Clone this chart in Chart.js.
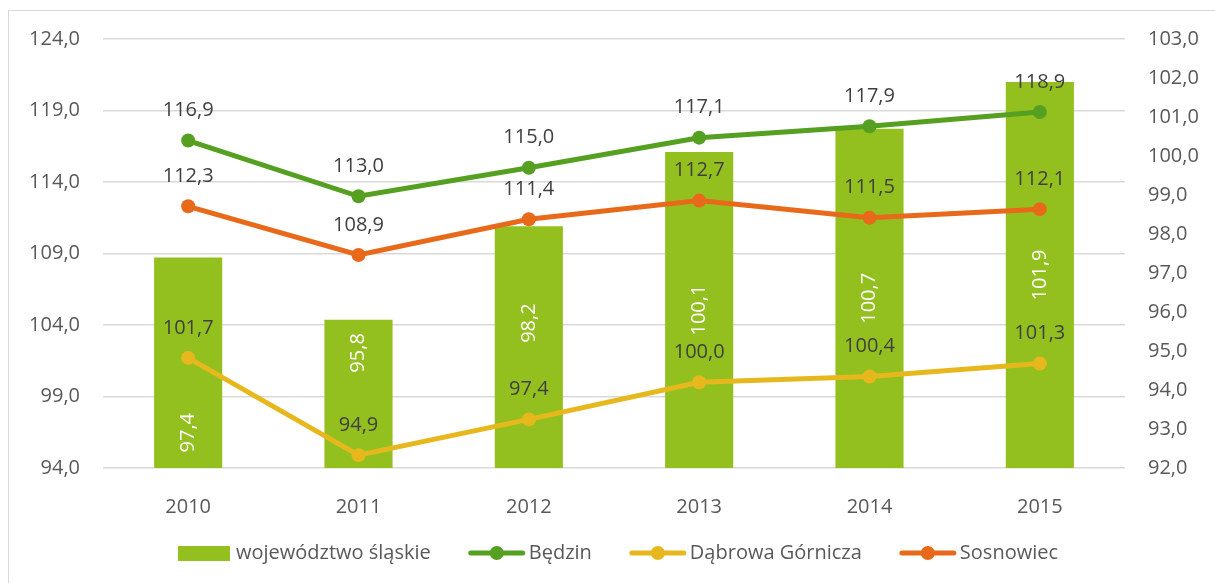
<!DOCTYPE html>
<html lang="pl">
<head>
<meta charset="utf-8">
<script src="https://cdn.jsdelivr.net/npm/chart.js@4"></script>
<style>
  body { margin: 0; background: #fff; overflow: hidden; }
  #frame { position: absolute; left: 8px; top: 10px; width: 1300px; height: 700px; border: 1px solid #d9d9d9; }
  #wrap { position: absolute; left: 0; top: 0; width: 1215px; height: 583px; }
</style>
</head>
<body>
<div id="frame"></div>
<div id="wrap"><canvas id="chart" width="1215" height="583"></canvas></div>
<script>
// dane
const years = ['2010', '2011', '2012', '2013', '2014', '2015'];
const slaskie = [97.4, 95.8, 98.2, 100.1, 100.7, 101.9];
const bedzin = [116.9, 113.0, 115.0, 117.1, 117.9, 118.9];
const dabrowa = [101.7, 94.9, 97.4, 100.0, 100.4, 101.3];
const sosnowiec = [112.3, 108.9, 111.4, 112.7, 111.5, 112.1];

// przesunięcia etykiet słupków (px od środka słupka)
const barLabelShift = [70, -41, -24, 0, 0, 0];

const FONT = '"Open Sans", "DejaVu Sans", sans-serif';
const FS = 20;
const fmt = v => v.toFixed(1).replace('.', ',');

const colors = {
    bar: '#93c01f',
    bedzin: '#55a021',
    dabrowa: '#e7b81e',
    sosnowiec: '#e8691a'
};

// etykiety danych
const labelsPlugin = {
    id: 'valueLabels',
    afterDatasetsDraw(chart) {
        const ctx = chart.ctx;
        const bottom = chart.chartArea.bottom;
        ctx.save();
        ctx.font = FS + 'px ' + FONT;
        ctx.textBaseline = 'middle';
        ctx.textAlign = 'center';
        chart.data.datasets.forEach((ds, i) => {
            const meta = chart.getDatasetMeta(i);
            meta.data.forEach((el, j) => {
                const txt = fmt(ds.data[j]);
                if (meta.type === 'bar') {
                    const cy = (el.y + bottom) / 2 + barLabelShift[j];
                    ctx.save();
                    ctx.translate(el.x, cy);
                    ctx.rotate(-Math.PI / 2);
                    ctx.fillStyle = '#ffffff';
                    ctx.fillText(txt, 0, 0);
                    ctx.restore();
                } else {
                    ctx.fillStyle = '#404040';
                    ctx.fillText(txt, el.x, el.y - 30);
                }
            });
        });
        ctx.restore();
    }
};

// legenda na dole
const legendPlugin = {
    id: 'bottomLegend',
    afterDraw(chart) {
        const ctx = chart.ctx;
        const items = [
            { label: 'województwo śląskie', color: colors.bar, bar: true },
            { label: 'Będzin', color: colors.bedzin },
            { label: 'Dąbrowa Górnicza', color: colors.dabrowa },
            { label: 'Sosnowiec', color: colors.sosnowiec }
        ];
        ctx.save();
        ctx.font = FS + 'px ' + FONT;
        ctx.textBaseline = 'middle';
        ctx.textAlign = 'left';
        let total = 0;
        items.forEach(it => {
            it.sym = it.bar ? 52 : 56;
            it.gap = it.bar ? 6 : 4;
            it.w = ctx.measureText(it.label).width;
            total += it.sym + it.gap + it.w;
        });
        const itemGap = 38;
        total += itemGap * (items.length - 1);
        let x = (chart.chartArea.left + chart.chartArea.right) / 2 - total / 2 + 4;
        const y = 553;
        items.forEach(it => {
            if (it.bar) {
                ctx.fillStyle = it.color;
                ctx.fillRect(x, y - 7, it.sym, 15);
            } else {
                ctx.strokeStyle = it.color;
                ctx.lineWidth = 5;
                ctx.lineCap = 'round';
                ctx.beginPath();
                ctx.moveTo(x + 2, y);
                ctx.lineTo(x + it.sym - 2, y);
                ctx.stroke();
                ctx.fillStyle = it.color;
                ctx.beginPath();
                ctx.arc(x + it.sym / 2, y, 7, 0, Math.PI * 2);
                ctx.fill();
            }
            x += it.sym + it.gap;
            ctx.fillStyle = '#595959';
            ctx.fillText(it.label, x, y);
            x += it.w + itemGap;
        });
        ctx.restore();
    }
};

function lineSet(label, data, color) {
    return {
        type: 'line',
        label: label,
        data: data,
        yAxisID: 'y',
        borderColor: color,
        backgroundColor: color,
        borderWidth: 5,
        pointRadius: 7,
        pointBorderWidth: 0,
        pointBackgroundColor: color,
        tension: 0,
        order: 1
    };
}

const ctx = document.getElementById('chart').getContext('2d');
new Chart(ctx, {
    data: {
        labels: years,
        datasets: [
            {
                type: 'bar',
                label: 'województwo śląskie',
                data: slaskie,
                yAxisID: 'y2',
                backgroundColor: colors.bar,
                barPercentage: 1,
                categoryPercentage: 0.4,
                order: 10
            },
            lineSet('Będzin', bedzin, colors.bedzin),
            lineSet('Dąbrowa Górnicza', dabrowa, colors.dabrowa),
            lineSet('Sosnowiec', sosnowiec, colors.sosnowiec)
        ]
    },
    options: {
        responsive: false,
        animation: false,
        layout: { padding: { top: 39, bottom: 65, left: 0, right: 0 } },
        plugins: {
            legend: { display: false },
            tooltip: { enabled: false }
        },
        scales: {
            x: {
                grid: { display: false },
                border: { display: false },
                ticks: { color: '#595959', font: { family: FONT, size: FS }, padding: 19 },
                afterFit: s => { s.height = 50; }
            },
            y: {
                position: 'left',
                min: 94,
                max: 124,
                ticks: {
                    stepSize: 5,
                    color: '#595959',
                    font: { family: FONT, size: FS },
                    padding: 23,
                    callback: v => fmt(v)
                },
                grid: { color: '#d9d9d9', lineWidth: 1.5, drawTicks: false },
                border: { display: false },
                afterFit: s => { s.width = 103; }
            },
            y2: {
                position: 'right',
                min: 92,
                max: 103,
                ticks: {
                    stepSize: 1,
                    color: '#595959',
                    font: { family: FONT, size: FS },
                    padding: 23,
                    callback: v => fmt(v)
                },
                grid: { display: false, drawTicks: false },
                border: { display: false },
                afterFit: s => { s.width = 90; }
            }
        }
    },
    plugins: [labelsPlugin, legendPlugin]
});
</script>
</body>
</html>
